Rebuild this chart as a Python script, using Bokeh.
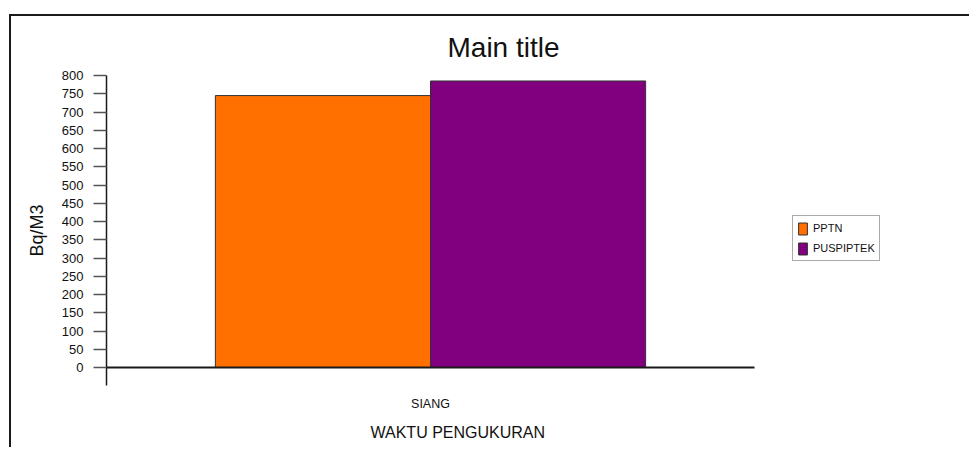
from bokeh.plotting import figure
from bokeh.models import (ColumnDataSource, Range1d, FixedTicker, Legend, LegendItem, Title)
from bokeh.transform import dodge
from bokeh.embed import file_html
from bokeh.resources import INLINE

# ---- data ----
categories = ["SIANG"]
pptn = [745]
puspiptek = [785]
series_names = ["PPTN", "PUSPIPTEK"]
series_colors = ["#FF7000", "#800080"]
y_ticks = list(range(0, 801, 50))

cat_pos = [i + 0.5 for i in range(len(categories))]
source = ColumnDataSource(data=dict(x=cat_pos, PPTN=pptn, PUSPIPTEK=puspiptek))

SANS = "Liberation Sans"
FRAME_LEFT = 95
CAT_PX = 648  # pixels per category slot
W, H = 960, 433

p = figure(
    x_range=Range1d(0, (W - FRAME_LEFT) / CAT_PX * len(categories)),
    y_range=Range1d(-49.3, 800),
    width=W, height=H,
    min_border_left=FRAME_LEFT, min_border_right=0,
    min_border_top=59, min_border_bottom=64,
    output_backend="svg", toolbar_location=None,
)
p.styles = {"margin-left": "9px", "margin-top": "14px",
            "border-left": "2px solid #1a1a1a", "border-top": "2px solid #1a1a1a"}

p.outline_line_color = None
p.xgrid.visible = False
p.ygrid.visible = False
p.background_fill_color = "white"
p.border_fill_color = "white"

bar_w = 0.332
r1 = p.vbar(x=dodge("x", -bar_w / 2, range=p.x_range), top="PPTN", width=bar_w, bottom=0,
            source=source, fill_color=series_colors[0], line_color="#333333", line_width=1)
r2 = p.vbar(x=dodge("x", bar_w / 2, range=p.x_range), top="PUSPIPTEK", width=bar_w, bottom=0,
            source=source, fill_color=series_colors[1], line_color="#333333", line_width=1)

# zero baseline across the category area
p.segment(x0=[0], y0=[0], x1=[len(categories)], y1=[0], line_color="#1a1a1a", line_width=2)

# y axis
ya = p.yaxis[0]
ya.ticker = FixedTicker(ticks=y_ticks)
ya.axis_line_color = "#1a1a1a"
ya.axis_line_width = 1.5
ya.major_tick_line_color = "#555555"
ya.major_tick_line_width = 1.5
ya.major_tick_out = 13
ya.major_tick_in = 0
ya.minor_tick_line_color = None
ya.major_label_text_font = SANS
ya.major_label_text_font_size = "13px"
ya.major_label_text_color = "#111111"
ya.major_label_standoff = 10
ya.axis_label = "Bq/M3"
ya.axis_label_text_font = SANS
ya.axis_label_text_font_size = "18px"
ya.axis_label_text_font_style = "normal"
ya.axis_label_text_color = "#111111"
ya.axis_label_standoff = 12

# x axis
xa = p.xaxis[0]
xa.ticker = FixedTicker(ticks=cat_pos)
xa.major_label_overrides = {c: n for c, n in zip(cat_pos, categories)}
xa.axis_line_color = None
xa.major_tick_line_color = None
xa.minor_tick_line_color = None
xa.major_label_text_font = SANS
xa.major_label_text_font_size = "12.5px"
xa.major_label_text_color = "#111111"
xa.major_label_standoff = 5

# x axis title as a below title
xt = Title(text="WAKTU PENGUKURAN", align="left", offset=264,
           text_font=SANS, text_font_size="16px", text_font_style="normal",
           text_color="#111111", standoff=16)
p.add_layout(xt, "below")

# main title
mt = Title(text="Main title", align="left", offset=341,
           text_font=SANS, text_font_size="28px", text_font_style="normal",
           text_color="#111111", standoff=26)
p.add_layout(mt, "above")

legend = Legend(items=[LegendItem(label=series_names[0], renderers=[r1]),
                       LegendItem(label=series_names[1], renderers=[r2])],
                location=(686, 124), margin=0, padding=4, spacing=4,
                glyph_width=11, glyph_height=15, label_standoff=5,
                label_text_font=SANS, label_text_font_size="11px",
                label_text_color="#111111", label_height=16,
                border_line_color="#555555", border_line_width=1.5,
                background_fill_alpha=1)
p.add_layout(legend, "center")

open("out.html", "w").write(file_html(p, INLINE))
